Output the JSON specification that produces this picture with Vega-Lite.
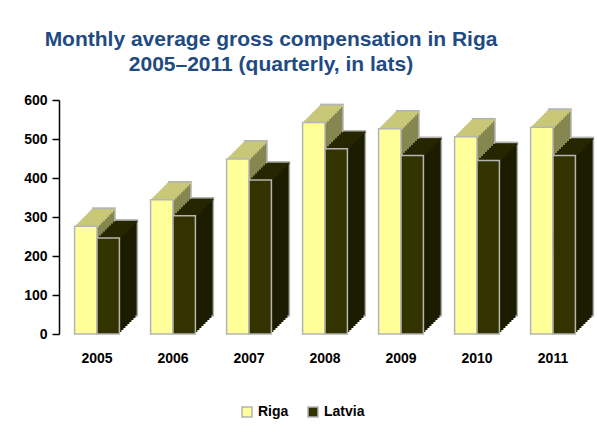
{
  "$schema": "https://vega.github.io/schema/vega-lite/v6.json",
  "autosize": {"type": "none"},
  "width": 532,
  "height": 234,
  "padding": {"left": 59, "top": 100, "right": 6, "bottom": 98},
  "background": "white",
  "title": {
    "text": ["Monthly average gross compensation in Riga", "2005–2011 (quarterly, in lats)"],
    "font": "Liberation Sans",
    "fontSize": 21,
    "fontWeight": "bold",
    "color": "#1F4A82",
    "lineHeight": 25,
    "anchor": "middle",
    "frame": "group",
    "dx": -54,
    "offset": 18
  },
  "config": {
    "view": {"stroke": null},
    "axis": {"labelFont": "Liberation Sans", "labelFontWeight": "bold", "labelFontSize": 14, "labelColor": "black", "grid": false, "title": null}
  },
  "data": {
    "values": [
      {"year": "2005", "series": "Riga", "value": 276},
      {"year": "2005", "series": "Latvia", "value": 246},
      {"year": "2006", "series": "Riga", "value": 344},
      {"year": "2006", "series": "Latvia", "value": 303},
      {"year": "2007", "series": "Riga", "value": 449},
      {"year": "2007", "series": "Latvia", "value": 395},
      {"year": "2008", "series": "Riga", "value": 542},
      {"year": "2008", "series": "Latvia", "value": 475},
      {"year": "2009", "series": "Riga", "value": 526},
      {"year": "2009", "series": "Latvia", "value": 458},
      {"year": "2010", "series": "Riga", "value": 506},
      {"year": "2010", "series": "Latvia", "value": 445},
      {"year": "2011", "series": "Riga", "value": 530},
      {"year": "2011", "series": "Latvia", "value": 458}
    ]
  },
  "encoding": {
    "x": {"field": "year", "type": "ordinal", "scale": {"paddingInner": 0.41, "paddingOuter": 0.205},
      "axis": {"domain": false, "ticks": false, "labelPadding": 17, "labelAngle": 0}},
    "y": {"field": "value", "type": "quantitative", "scale": {"domain": [0, 600]},
      "axis": {"values": [0, 100, 200, 300, 400, 500, 600], "domainColor": "black", "domainWidth": 1.5, "tickColor": "black", "tickWidth": 1.5, "tickSize": 7, "labelPadding": 5}}
  },
  "layer": [
    {"mark": {"type": "bar", "yOffset": -18, "stroke": "#b4b4b4", "strokeWidth": 1.5},
     "encoding": {"xOffset": {"field": "series", "scale": {"domain": ["Riga", "Latvia"], "range": [18, 62.84], "paddingInner": 0}},
       "fill": {"condition": {"test": "datum.series==='Riga'", "value": "#868650"}, "value": "#1c1c00"}}},
    {"mark": {"type": "bar", "yOffset": -16},
     "encoding": {"xOffset": {"field": "series", "scale": {"domain": ["Riga", "Latvia"], "range": [16, 60.84], "paddingInner": 0}},
       "fill": {"condition": {"test": "datum.series==='Riga'", "value": "#868650"}, "value": "#1c1c00"}}},
    {"mark": {"type": "bar", "yOffset": -14},
     "encoding": {"xOffset": {"field": "series", "scale": {"domain": ["Riga", "Latvia"], "range": [14, 58.84], "paddingInner": 0}},
       "fill": {"condition": {"test": "datum.series==='Riga'", "value": "#868650"}, "value": "#1c1c00"}}},
    {"mark": {"type": "bar", "yOffset": -12},
     "encoding": {"xOffset": {"field": "series", "scale": {"domain": ["Riga", "Latvia"], "range": [12, 56.84], "paddingInner": 0}},
       "fill": {"condition": {"test": "datum.series==='Riga'", "value": "#868650"}, "value": "#1c1c00"}}},
    {"mark": {"type": "bar", "yOffset": -10},
     "encoding": {"xOffset": {"field": "series", "scale": {"domain": ["Riga", "Latvia"], "range": [10, 54.84], "paddingInner": 0}},
       "fill": {"condition": {"test": "datum.series==='Riga'", "value": "#868650"}, "value": "#1c1c00"}}},
    {"mark": {"type": "bar", "yOffset": -8},
     "encoding": {"xOffset": {"field": "series", "scale": {"domain": ["Riga", "Latvia"], "range": [8, 52.84], "paddingInner": 0}},
       "fill": {"condition": {"test": "datum.series==='Riga'", "value": "#868650"}, "value": "#1c1c00"}}},
    {"mark": {"type": "bar", "yOffset": -6},
     "encoding": {"xOffset": {"field": "series", "scale": {"domain": ["Riga", "Latvia"], "range": [6, 50.84], "paddingInner": 0}},
       "fill": {"condition": {"test": "datum.series==='Riga'", "value": "#868650"}, "value": "#1c1c00"}}},
    {"mark": {"type": "bar", "yOffset": -4},
     "encoding": {"xOffset": {"field": "series", "scale": {"domain": ["Riga", "Latvia"], "range": [4, 48.84], "paddingInner": 0}},
       "fill": {"condition": {"test": "datum.series==='Riga'", "value": "#868650"}, "value": "#1c1c00"}}},
    {"mark": {"type": "bar", "yOffset": -2},
     "encoding": {"xOffset": {"field": "series", "scale": {"domain": ["Riga", "Latvia"], "range": [2, 46.84], "paddingInner": 0}},
       "fill": {"condition": {"test": "datum.series==='Riga'", "value": "#868650"}, "value": "#1c1c00"}}},
    {"mark": {"type": "tick", "yOffset": -16.75, "size": 22.4, "thickness": 2.5, "opacity": 1, "orient": "horizontal"},
     "encoding": {"xOffset": {"field": "series", "scale": {"domain": ["Riga", "Latvia"], "range": [18, 62.84], "paddingInner": 0}},
       "color": {"condition": {"test": "datum.series==='Riga'", "value": "#C8C878"}, "value": "#262600"}}},
    {"mark": {"type": "tick", "yOffset": -15, "size": 22.4, "thickness": 3, "opacity": 1, "orient": "horizontal"},
     "encoding": {"xOffset": {"field": "series", "scale": {"domain": ["Riga", "Latvia"], "range": [16, 60.84], "paddingInner": 0}},
       "color": {"condition": {"test": "datum.series==='Riga'", "value": "#C8C878"}, "value": "#262600"}}},
    {"mark": {"type": "tick", "yOffset": -13, "size": 22.4, "thickness": 3, "opacity": 1, "orient": "horizontal"},
     "encoding": {"xOffset": {"field": "series", "scale": {"domain": ["Riga", "Latvia"], "range": [14, 58.84], "paddingInner": 0}},
       "color": {"condition": {"test": "datum.series==='Riga'", "value": "#C8C878"}, "value": "#262600"}}},
    {"mark": {"type": "tick", "yOffset": -11, "size": 22.4, "thickness": 3, "opacity": 1, "orient": "horizontal"},
     "encoding": {"xOffset": {"field": "series", "scale": {"domain": ["Riga", "Latvia"], "range": [12, 56.84], "paddingInner": 0}},
       "color": {"condition": {"test": "datum.series==='Riga'", "value": "#C8C878"}, "value": "#262600"}}},
    {"mark": {"type": "tick", "yOffset": -9, "size": 22.4, "thickness": 3, "opacity": 1, "orient": "horizontal"},
     "encoding": {"xOffset": {"field": "series", "scale": {"domain": ["Riga", "Latvia"], "range": [10, 54.84], "paddingInner": 0}},
       "color": {"condition": {"test": "datum.series==='Riga'", "value": "#C8C878"}, "value": "#262600"}}},
    {"mark": {"type": "tick", "yOffset": -7, "size": 22.4, "thickness": 3, "opacity": 1, "orient": "horizontal"},
     "encoding": {"xOffset": {"field": "series", "scale": {"domain": ["Riga", "Latvia"], "range": [8, 52.84], "paddingInner": 0}},
       "color": {"condition": {"test": "datum.series==='Riga'", "value": "#C8C878"}, "value": "#262600"}}},
    {"mark": {"type": "tick", "yOffset": -5, "size": 22.4, "thickness": 3, "opacity": 1, "orient": "horizontal"},
     "encoding": {"xOffset": {"field": "series", "scale": {"domain": ["Riga", "Latvia"], "range": [6, 50.84], "paddingInner": 0}},
       "color": {"condition": {"test": "datum.series==='Riga'", "value": "#C8C878"}, "value": "#262600"}}},
    {"mark": {"type": "tick", "yOffset": -3, "size": 22.4, "thickness": 3, "opacity": 1, "orient": "horizontal"},
     "encoding": {"xOffset": {"field": "series", "scale": {"domain": ["Riga", "Latvia"], "range": [4, 48.84], "paddingInner": 0}},
       "color": {"condition": {"test": "datum.series==='Riga'", "value": "#C8C878"}, "value": "#262600"}}},
    {"mark": {"type": "tick", "yOffset": -1, "size": 22.4, "thickness": 3, "opacity": 1, "orient": "horizontal"},
     "encoding": {"xOffset": {"field": "series", "scale": {"domain": ["Riga", "Latvia"], "range": [2, 46.84], "paddingInner": 0}},
       "color": {"condition": {"test": "datum.series==='Riga'", "value": "#C8C878"}, "value": "#262600"}}},
    {"mark": {"type": "tick", "yOffset": -18, "size": 23, "thickness": 1.5, "opacity": 1, "orient": "horizontal", "color": "#b4b4b4"},
     "encoding": {"xOffset": {"field": "series", "scale": {"domain": ["Riga", "Latvia"], "range": [18, 62.84], "paddingInner": 0}}}},
    {"mark": {"type": "bar", "stroke": "#b4b4b4", "strokeWidth": 1.5},
     "encoding": {"xOffset": {"field": "series", "scale": {"domain": ["Riga", "Latvia"], "range": [0, 44.84], "paddingInner": 0}},
       "color": {"field": "series", "type": "nominal", "scale": {"domain": ["Riga", "Latvia"], "range": ["#FFFF99", "#333300"]},
         "legend": {"title": null, "orient": "none", "direction": "horizontal", "legendX": 181, "legendY": 305,
           "symbolType": "square", "symbolSize": 100, "symbolStrokeColor": "#b4b4b4", "symbolStrokeWidth": 1.5, "symbolOpacity": 1,
           "labelFont": "Liberation Sans", "labelFontWeight": "bold", "labelFontSize": 14, "labelColor": "black", "labelOffset": 4, "columnPadding": 16}}}}
  ],
  "resolve": {"scale": {"xOffset": "independent"}}
}
